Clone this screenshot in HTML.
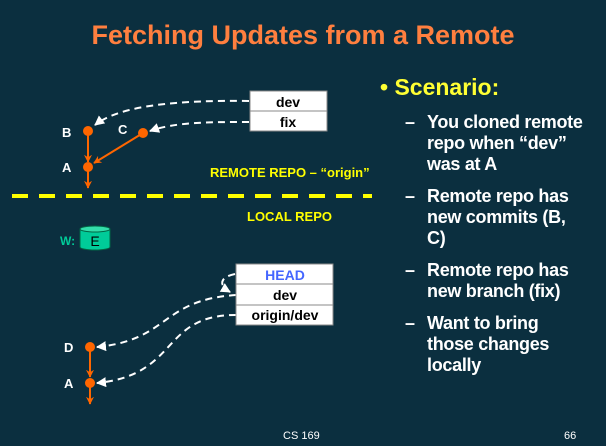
<!DOCTYPE html><html><head><style>
body{margin:0;width:606px;height:446px;background:#0b2f3f;overflow:hidden;font-family:"Liberation Sans",sans-serif;position:relative}
.t{position:absolute;white-space:nowrap}
</style></head><body>
<div class="t" style="left:0;width:606px;text-align:center;top:20px;font-size:27px;font-weight:bold;color:#ff7f3f">Fetching Updates from a Remote</div>
<div class="t" style="left:380px;top:74px;font-size:23px;color:#ffff33;font-weight:bold">• Scenario:</div>
<div style="position:absolute;left:405px;top:112px;font-size:18px;color:#fff;line-height:21px;font-weight:bold;letter-spacing:-0.3px">
<div style="position:relative;padding-left:22px;margin-bottom:11px"><span style="position:absolute;left:0">–</span>You cloned remote<br>repo when “dev”<br>was at A</div>
<div style="position:relative;padding-left:22px;margin-bottom:11px"><span style="position:absolute;left:0">–</span>Remote repo has<br>new commits (B,<br>C)</div>
<div style="position:relative;padding-left:22px;margin-bottom:11px"><span style="position:absolute;left:0">–</span>Remote repo has<br>new branch (fix)</div>
<div style="position:relative;padding-left:22px"><span style="position:absolute;left:0">–</span>Want to bring<br>those changes<br>locally</div>
</div>
<svg width="606" height="446" style="position:absolute;left:0;top:0" font-family="Liberation Sans" font-weight="bold">
<defs>
<marker id="w" viewBox="0 0 10 10" refX="9" refY="5" markerWidth="5" markerHeight="5" orient="auto"><path d="M0,0L10,5L0,10z" fill="#fff"/></marker>
<marker id="o" viewBox="0 0 10 10" refX="9" refY="5" markerWidth="4" markerHeight="4" orient="auto"><path d="M0,0L10,5L0,10L3,5z" fill="#ff6600"/></marker>
</defs>
<rect x="250" y="91" width="77" height="20" fill="#fff" stroke="#888"/>
<rect x="250" y="111" width="77" height="20" fill="#fff" stroke="#888"/>
<text x="288" y="107" font-size="14" text-anchor="middle">dev</text>
<text x="288" y="127" font-size="14" text-anchor="middle">fix</text>
<g fill="none" stroke="#fff" stroke-width="2" stroke-dasharray="7,5">
<path d="M249,101 C180,100 120,105 95,125" marker-end="url(#w)"/>
<path d="M249,122 C210,122 175,122 150,131" marker-end="url(#w)"/>
<path d="M235,274 C220,277 218,285 230,292" marker-end="url(#w)"/>
<path d="M236,295 C160,300 170,340 97,347" marker-end="url(#w)"/>
<path d="M236,315 C160,315 180,375 97,383" marker-end="url(#w)"/>
</g>
<g stroke="#ff6600" stroke-width="2" fill="none">
<path d="M88,131 V162" marker-end="url(#o)"/>
<path d="M143,133 L94,163" marker-end="url(#o)"/>
<path d="M88,167 V188" marker-end="url(#o)"/>
<path d="M90,347 V377" marker-end="url(#o)"/>
<path d="M90,383 V404" marker-end="url(#o)"/>
</g>
<g fill="#ff6600"><circle cx="88" cy="131" r="5"/><circle cx="143" cy="133" r="5"/><circle cx="88" cy="167" r="5"/><circle cx="90" cy="347" r="5"/><circle cx="90" cy="383" r="5"/></g>
<g fill="#fff" font-size="13"><text x="62" y="137">B</text><text x="118" y="134">C</text><text x="62" y="172">A</text><text x="64" y="352">D</text><text x="64" y="388">A</text></g>
<line x1="12" y1="196" x2="372" y2="196" stroke="#ffff00" stroke-width="4" stroke-dasharray="16,11"/>
<text x="210" y="177" font-size="13" fill="#ffff00">REMOTE REPO – “origin”</text>
<text x="247" y="221" font-size="13" fill="#ffff00">LOCAL REPO</text>
<text x="60" y="245" font-size="12" fill="#00cc99">W:</text>
<path d="M80,229 V247 A15,3 0 0 0 110,247 V229" fill="#00cc99" stroke="#006644"/>
<ellipse cx="95" cy="229" rx="15" ry="3" fill="#33ddaa" stroke="#006644"/>
<text x="95" y="246" font-size="14" text-anchor="middle" font-weight="normal">E</text>
<rect x="236" y="264" width="97" height="20" fill="#fff" stroke="#888"/>
<rect x="236" y="284" width="97" height="21" fill="#fff" stroke="#888"/>
<rect x="236" y="305" width="97" height="20" fill="#fff" stroke="#888"/>
<text x="285" y="280" font-size="14" text-anchor="middle" fill="#4466ff">HEAD</text>
<text x="285" y="300" font-size="14" text-anchor="middle">dev</text>
<text x="285" y="320" font-size="14" text-anchor="middle">origin/dev</text>
<text x="283" y="439" font-size="11" fill="#fff" font-weight="normal">CS 169</text>
<text x="564" y="439" font-size="11" fill="#fff" font-weight="normal">66</text>
</svg>
</body></html>
